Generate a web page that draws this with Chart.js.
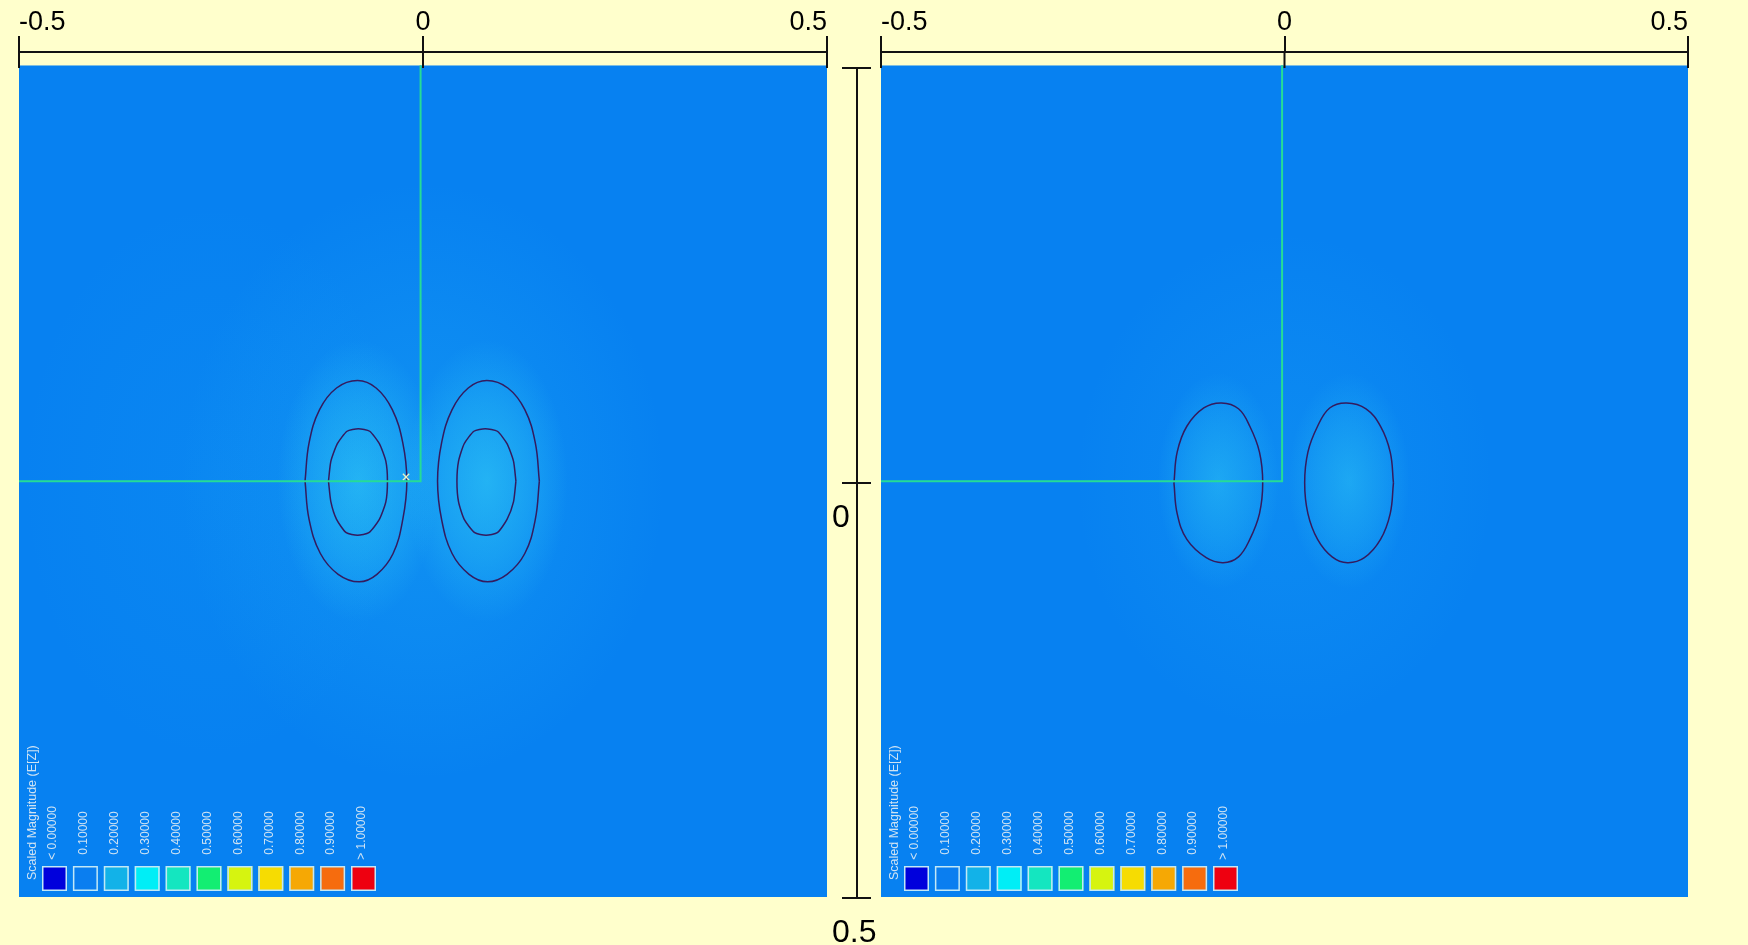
<!DOCTYPE html>
<html lang="en">
<head>
<meta charset="UTF-8">
<title>Scaled Magnitude (E[Z])</title>
<script src="https://cdn.jsdelivr.net/npm/chart.js"></script>
<style>
  html, body { margin: 0; padding: 0; background: #ffffcc; }
  body { width: 1748px; height: 945px; position: relative; overflow: hidden; }
  canvas { position: absolute; top: 0; }
</style>
</head>
<body>
<canvas id="leftPanel" width="850" height="945" style="left:0px;width:850px;height:945px"></canvas>
<canvas id="rightPanel" width="888" height="945" style="left:860px;width:888px;height:945px"></canvas>
<canvas id="midAxis" width="100" height="945" style="left:800px;width:100px;height:945px"></canvas>
<script>
// ---- data ----
const xTicks = [-0.5, 0, 0.5];
const xTickLabels = ['-0.5', '0', '0.5'];
const yTicks = [-0.5, 0, 0.5];
const yTickLabels = ['', '0', '0.5'];   // top label is not shown in the original

const legendTitle = 'Scaled Magnitude (E[Z])';
const legendLabels = ['< 0.00000', '0.10000', '0.20000', '0.30000', '0.40000', '0.50000',
                      '0.60000', '0.70000', '0.80000', '0.90000', '> 1.00000'];
const legendColors = ['#0000dc', '#0a7ef0', '#12b2e8', '#00eef6', '#14e6c0', '#12ee72',
                      '#d6f410', '#f6dc02', '#f6a804', '#f66c0e', '#ee0010'];

// left panel contours [x, y]
const leftOuterA = [[-0.146,0.000],[-0.141,-0.046],[-0.128,-0.086],[-0.107,-0.112],[-0.081,-0.121],
  [-0.058,-0.112],[-0.038,-0.086],[-0.025,-0.046],[-0.020,0.000],[-0.025,0.046],[-0.037,0.087],
  [-0.057,0.112],[-0.079,0.121],[-0.105,0.112],[-0.127,0.087],[-0.141,0.046],[-0.146,0.000]];
const leftInnerA = [[-0.117,0.000],[-0.114,-0.024],[-0.106,-0.045],[-0.094,-0.060],[-0.080,-0.063],
  [-0.066,-0.060],[-0.054,-0.045],[-0.046,-0.024],[-0.044,0.000],[-0.046,0.025],[-0.054,0.046],
  [-0.067,0.062],[-0.081,0.065],[-0.095,0.062],[-0.107,0.046],[-0.114,0.025],[-0.117,0.000]];
const leftOuterB = [[0.144,0.000],[0.139,-0.046],[0.126,-0.086],[0.105,-0.112],[0.079,-0.121],
  [0.056,-0.112],[0.036,-0.086],[0.023,-0.046],[0.018,0.000],[0.023,0.046],[0.036,0.087],
  [0.057,0.112],[0.080,0.121],[0.104,0.112],[0.126,0.087],[0.139,0.046],[0.144,0.000]];
const leftInnerB = [[0.115,0.000],[0.112,-0.024],[0.104,-0.045],[0.092,-0.060],[0.077,-0.063],
  [0.063,-0.060],[0.051,-0.045],[0.044,-0.024],[0.042,0.000],[0.044,0.025],[0.051,0.046],
  [0.064,0.062],[0.078,0.065],[0.092,0.062],[0.104,0.046],[0.112,0.025],[0.115,0.000]];

// right panel contours
const rightContourA = [[-0.137,0.002],[-0.133,-0.035],[-0.121,-0.066],[-0.100,-0.088],[-0.078,-0.094],
  [-0.057,-0.087],[-0.043,-0.066],[-0.031,-0.035],[-0.027,0.002],[-0.031,0.039],[-0.043,0.070],
  [-0.057,0.091],[-0.076,0.098],[-0.097,0.092],[-0.121,0.070],[-0.133,0.039],[-0.137,0.002]];
const rightContourB = [[0.135,0.002],[0.131,-0.035],[0.119,-0.066],[0.101,-0.087],[0.077,-0.094],
  [0.056,-0.088],[0.041,-0.066],[0.029,-0.035],[0.025,0.002],[0.029,0.039],[0.041,0.070],
  [0.059,0.091],[0.078,0.098],[0.099,0.092],[0.119,0.070],[0.131,0.039],[0.135,0.002]];

// cursor lines and marker
const leftCursor = [[-0.003,-0.5],[-0.003,0],[-0.5,0]];
const rightCursor = [[-0.003,-0.5],[-0.003,0],[-0.5,0]];
const leftMarker = [[-0.021,-0.005]];

// field brightness (glow spots)
const leftGlowX = [0.0, -0.080, 0.079, -0.26];
const leftGlowY = [0.0, 0.0, 0.0, 0.0];
const leftGlowRX = [0.30, 0.10, 0.10, 0.24];
const leftGlowRY = [0.36, 0.17, 0.17, 0.34];
const leftGlowPeak = [0.22, 0.58, 0.58, 0.07];

const rightGlowX = [0.0, -0.082, 0.080];
const rightGlowY = [0.0, 0.0, 0.0];
const rightGlowRX = [0.26, 0.075, 0.075];
const rightGlowRY = [0.30, 0.13, 0.13];
const rightGlowPeak = [0.14, 0.45, 0.45];

// ---- helpers ----
const FONT = '"Liberation Sans", Arial, sans-serif';
const pts = arr => arr.map(p => ({x: p[0], y: p[1]}));

function fieldPlugin(gx, gy, grx, gry, gp) {
    return {
        id: 'field',
        beforeDatasetsDraw(chart) {
            const {ctx, scales: {x, y}} = chart;
            const x0 = x.getPixelForValue(-0.5), x1 = x.getPixelForValue(0.5);
            const y0 = y.getPixelForValue(-0.5), y1 = y.getPixelForValue(0.5);
            ctx.save();
            ctx.beginPath();
            ctx.rect(x0, y0, x1 - x0, y1 - y0);
            ctx.clip();
            ctx.fillStyle = '#0781f1';
            ctx.fillRect(x0, y0, x1 - x0, y1 - y0);
            gx.forEach((cx, i) => {
                const px = x.getPixelForValue(cx), py = y.getPixelForValue(gy[i]);
                const rx = Math.abs(x.getPixelForValue(cx + grx[i]) - px);
                const ry = Math.abs(y.getPixelForValue(gy[i] + gry[i]) - py);
                ctx.save();
                ctx.translate(px, py);
                ctx.scale(rx, ry);
                const g = ctx.createRadialGradient(0, 0, 0, 0, 0, 1);
                g.addColorStop(0, `rgba(50,205,245,${gp[i]})`);
                g.addColorStop(0.55, `rgba(50,205,245,${gp[i] * 0.5})`);
                g.addColorStop(1, 'rgba(50,205,245,0)');
                ctx.fillStyle = g;
                ctx.beginPath();
                ctx.arc(0, 0, 1, 0, Math.PI * 2);
                ctx.fill();
                ctx.restore();
            });
            ctx.restore();
        }
    };
}

const scaleKeyPlugin = {
    id: 'scaleKey',
    afterDatasetsDraw(chart) {
        const {ctx, chartArea: {left, bottom}} = chart;
        ctx.save();
        legendColors.forEach((c, i) => {
            const sx = left + 23 + i * 30.9, sy = bottom - 31;
            ctx.fillStyle = c;
            ctx.fillRect(sx, sy, 25, 25);
            ctx.strokeStyle = '#c2e8f6';
            ctx.lineWidth = 1.5;
            ctx.strokeRect(sx + 0.75, sy + 0.75, 23.5, 23.5);
            ctx.save();
            ctx.translate(sx + 11, bottom - 64);
            ctx.rotate(-Math.PI / 2);
            ctx.font = '12px ' + FONT;
            ctx.fillStyle = '#cfe3f3';
            ctx.textAlign = 'center';
            ctx.textBaseline = 'middle';
            ctx.fillText(legendLabels[i], 0, 0);
            ctx.restore();
        });
        ctx.translate(left + 14, bottom - 17);
        ctx.rotate(-Math.PI / 2);
        ctx.font = '12.5px ' + FONT;
        ctx.fillStyle = '#cfe3f3';
        ctx.textAlign = 'left';
        ctx.textBaseline = 'middle';
        ctx.fillText(legendTitle, 0, 0);
        ctx.restore();
    }
};

// tick marks crossing the axis line (the inner half of each tick)
const tickStubPlugin = {
    id: 'tickStubs',
    afterDraw(chart) {
        const {ctx, chartArea} = chart;
        ctx.save();
        ctx.strokeStyle = '#111';
        ctx.lineWidth = 2;
        Object.values(chart.scales).forEach(s => {
            if (!s.options.display) return;
            s.ticks.forEach(t => {
                const p = s.getPixelForValue(t.value);
                ctx.beginPath();
                if (s.isHorizontal()) {
                    ctx.moveTo(p, chartArea.top);
                    ctx.lineTo(p, chartArea.top + 16);
                } else {
                    ctx.moveTo(chartArea.left, p);
                    ctx.lineTo(chartArea.left + 14, p);
                }
                ctx.stroke();
            });
        });
        ctx.restore();
    }
};

function makePanel(id, contours, cursor, marker, glow, padding) {
    const datasets = [{
        data: pts(cursor), showLine: true, borderColor: '#26dc96', borderWidth: 2,
        pointRadius: 0, tension: 0, order: 0
    }];
    if (marker) {
        datasets.push({
            data: pts(marker), pointStyle: 'crossRot', pointRadius: 4.5,
            borderColor: '#e6f2c8', borderWidth: 1.3, order: 0
        });
    }
    contours.forEach(c => datasets.push({
        data: pts(c.pts), showLine: true, borderColor: '#341b5e', borderWidth: 1.5,
        pointRadius: 0, tension: c.tension, order: 1
    }));

    return new Chart(document.getElementById(id), {
        type: 'scatter',
        data: {datasets: datasets},
        options: {
            responsive: false,
            animation: false,
            events: [],
            layout: {padding: padding},
            plugins: {legend: {display: false}, tooltip: {enabled: false}},
            scales: {
                x: {
                    type: 'linear', position: 'top', min: -0.5, max: 0.5,
                    afterBuildTicks: s => { s.ticks = xTicks.map(v => ({value: v})); },
                    ticks: {
                        callback: (v, i) => xTickLabels[i],
                        align: 'inner', maxRotation: 0, padding: 0, color: '#000',
                        font: {family: FONT, size: 27, lineHeight: 1}
                    },
                    grid: {drawOnChartArea: false, drawTicks: true, tickLength: 16, color: '#111', lineWidth: 2},
                    border: {display: true, color: '#111', width: 2}
                },
                y: {type: 'linear', display: false, min: -0.516, max: 0.5, reverse: true}
            }
        },
        plugins: [fieldPlugin(...glow), scaleKeyPlugin, tickStubPlugin]
    });
}

makePanel('leftPanel',
    [{pts: leftOuterA, tension: 0.4}, {pts: leftInnerA, tension: 0.2},
     {pts: leftOuterB, tension: 0.4}, {pts: leftInnerB, tension: 0.2}],
    leftCursor, leftMarker,
    [leftGlowX, leftGlowY, leftGlowRX, leftGlowRY, leftGlowPeak],
    {left: 19, right: 23, top: 9, bottom: 48});

makePanel('rightPanel',
    [{pts: rightContourA, tension: 0.4}, {pts: rightContourB, tension: 0.4}],
    rightCursor, null,
    [rightGlowX, rightGlowY, rightGlowRX, rightGlowRY, rightGlowPeak],
    {left: 21, right: 60, top: 9, bottom: 48});

// shared vertical axis between the panels
new Chart(document.getElementById('midAxis'), {
    type: 'scatter',
    data: {datasets: []},
    options: {
        responsive: false,
        animation: false,
        events: [],
        layout: {padding: {left: 32, right: 0, top: 68, bottom: 47}},
        plugins: {legend: {display: false}, tooltip: {enabled: false}},
        scales: {
            x: {type: 'linear', display: false, min: 0, max: 1},
            y: {
                type: 'linear', position: 'left', min: -0.5, max: 0.5, reverse: true,
                afterBuildTicks: s => { s.ticks = yTicks.map(v => ({value: v})); },
                afterFit: s => { s.width = 25; },
                ticks: {
                    callback: (v, i) => yTickLabels[i],
                    mirror: true, crossAlign: 'near', labelOffset: 35, padding: -25, color: '#000',
                    font: {family: FONT, size: 32, lineHeight: 1}
                },
                grid: {drawOnChartArea: false, drawTicks: true, tickLength: 15, color: '#111', lineWidth: 2},
                border: {display: true, color: '#111', width: 2}
            }
        }
    },
    plugins: [tickStubPlugin]
});
</script>
</body>
</html>
